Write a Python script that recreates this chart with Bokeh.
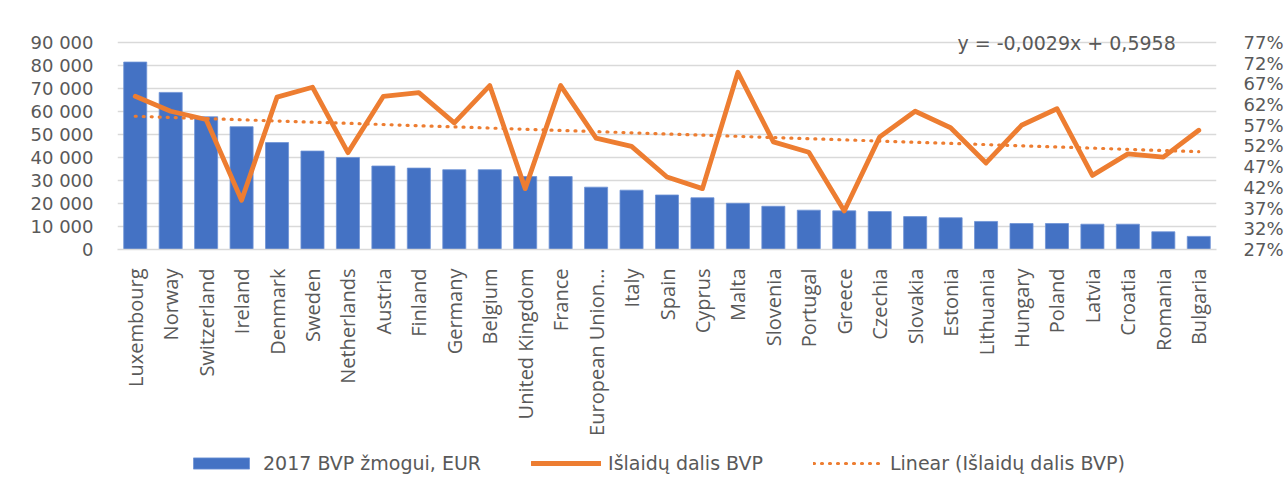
import numpy as np
from bokeh.plotting import figure
from bokeh.layouts import column
from bokeh.models import (FactorRange, Range1d, LinearAxis, FixedTicker, Legend,
                          LegendItem, Label, ColumnDataSource)
from bokeh.embed import file_html
from bokeh.resources import INLINE

countries = ["Luxembourg", "Norway", "Switzerland", "Ireland", "Denmark", "Sweden",
             "Netherlands", "Austria", "Finland", "Germany", "Belgium", "United Kingdom",
             "France", "European Union…", "Italy", "Spain", "Cyprus", "Malta", "Slovenia",
             "Portugal", "Greece", "Czechia", "Slovakia", "Estonia", "Lithuania", "Hungary",
             "Poland", "Latvia", "Croatia", "Romania", "Bulgaria"]
gdp = [81500, 68300, 57700, 53400, 46500, 42800, 40000, 36300, 35400, 34700, 34700, 31700,
       31700, 27100, 25800, 23700, 22500, 20100, 18800, 17100, 16800, 16500, 14300, 13800,
       12200, 11300, 11300, 11000, 11000, 7700, 5700]
share = [0.640, 0.604, 0.584, 0.389, 0.638, 0.662, 0.504, 0.640, 0.649, 0.576, 0.666, 0.417,
         0.666, 0.539, 0.519, 0.445, 0.417, 0.698, 0.530, 0.505, 0.363, 0.542, 0.604, 0.564,
         0.479, 0.570, 0.610, 0.449, 0.501, 0.493, 0.558]
left_ticks = [0, 10000, 20000, 30000, 40000, 50000, 60000, 70000, 80000, 90000]
left_labels = ["0", "10 000", "20 000", "30 000", "40 000", "50 000", "60 000", "70 000",
               "80 000", "90 000"]
right_ticks = [0.27, 0.32, 0.37, 0.42, 0.47, 0.52, 0.57, 0.62, 0.67, 0.72, 0.77]
right_labels = ["27%", "32%", "37%", "42%", "47%", "52%", "57%", "62%", "67%", "72%", "77%"]
series_names = ["2017 BVP žmogui, EUR", "Išlaidų dalis BVP", "Linear (Išlaidų dalis BVP)"]
equation = "y = -0,0029x + 0,5958"

# linear trendline (least squares fit of the share series, as Excel's "Linear" trendline)
xs = np.arange(1, len(share) + 1)
coef = np.polyfit(xs, share, 1)
trend = list(np.polyval(coef, xs))

src = ColumnDataSource(dict(c=countries, gdp=gdp, share=share, trend=trend))

TXT = "#595959"
GRID = "#d9d9d9"
BLUE = "#4472C4"
ORANGE = "#ED7D31"

# head-room above the top gridline so the equation text is not clipped
Y_TOP = 96087
P_TOP = 0.8038

W = 1286
H1, H2 = 448, 47

p = figure(width=W, height=H1, x_range=FactorRange(*countries, range_padding=0),
           y_range=Range1d(0, Y_TOP), output_backend="svg", toolbar_location=None,
           min_border_left=117, min_border_right=70, min_border_top=28,
           min_border_bottom=H1 - 249)
p.outline_line_color = None
p.background_fill_color = "white"
p.border_fill_color = "white"
p.extra_y_ranges = {"pct": Range1d(0.27, P_TOP)}

bar_style = dict(fill_color=BLUE, line_color="#6f93d6", line_width=0.8)
line_style = dict(line_color=ORANGE, line_width=4.8, line_join="round", line_cap="round")
trend_style = dict(line_color=ORANGE, line_width=3.2, line_dash="1 7", line_cap="round")

p.vbar(x="c", top="gdp", width=0.65, source=src, **bar_style)
p.line(x="c", y="share", source=src, y_range_name="pct", **line_style)
p.line(x="c", y="trend", source=src, y_range_name="pct", **trend_style)

# grid
p.xgrid.grid_line_color = None
p.ygrid.grid_line_color = GRID
p.ygrid.grid_line_width = 1.3
p.ygrid.ticker = FixedTicker(ticks=left_ticks)

# left axis
ya = p.yaxis[0]
ya.ticker = FixedTicker(ticks=left_ticks)
ya.major_label_overrides = {t: l for t, l in zip(left_ticks, left_labels)}
ya.axis_line_color = None
ya.major_tick_line_color = None
ya.minor_tick_line_color = None
ya.major_label_standoff = 18
ya.major_label_text_font = "DejaVu Sans"
ya.major_label_text_font_size = "18px"
ya.major_label_text_color = TXT

# right axis
ra = LinearAxis(y_range_name="pct", ticker=FixedTicker(ticks=right_ticks))
ra.major_label_overrides = {t: l for t, l in zip(right_ticks, right_labels)}
ra.axis_line_color = None
ra.major_tick_line_color = None
ra.minor_tick_line_color = None
ra.major_label_standoff = 21
ra.major_label_text_font = "DejaVu Sans"
ra.major_label_text_font_size = "18px"
ra.major_label_text_color = TXT
p.add_layout(ra, "right")

# x axis
xa = p.xaxis[0]
xa.axis_line_color = GRID
xa.axis_line_width = 1.5
xa.major_tick_line_color = None
xa.minor_tick_line_color = None
xa.major_label_orientation = np.pi / 2
xa.major_label_standoff = 13
xa.major_label_text_font = "Open Sans"
xa.major_label_text_font_size = "20px"
xa.major_label_text_color = TXT

# trendline equation
p.add_layout(Label(x=29.85, y=90000, text=equation, text_align="right",
                   text_baseline="middle", text_font="DejaVu Sans", text_font_size="19px",
                   text_color=TXT))

# legend strip (separate figure so the legend is not clipped by the chart frame);
# its swatch renderers hold a single point far outside the strip's visible range
lg = figure(width=W, height=H2, x_range=Range1d(0, 1), y_range=Range1d(0, 1),
            output_backend="svg", toolbar_location=None, x_axis_type=None,
            y_axis_type=None, min_border=0)
lg.outline_line_color = None
lg.xgrid.grid_line_color = None
lg.ygrid.grid_line_color = None
r_bar = lg.vbar(x=[-50], top=[-50], bottom=[-51], width=0.5, **bar_style)
r_line = lg.line(x=[-50, -49], y=[-50, -50], **line_style)
r_trend = lg.line(x=[-50, -49], y=[-50, -50], **trend_style)

legend = Legend(items=[LegendItem(label=series_names[0], renderers=[r_bar]),
                       LegendItem(label=series_names[1], renderers=[r_line]),
                       LegendItem(label=series_names[2], renderers=[r_trend])],
                location=(69, 21), orientation="horizontal", glyph_width=70,
                glyph_height=14, label_height=14, label_standoff=7, spacing=50,
                padding=0, margin=0, border_line_color=None, background_fill_alpha=0,
                label_text_font="DejaVu Sans", label_text_font_size="19px",
                label_text_color=TXT, label_text_baseline="middle")
lg.add_layout(legend, "center")

layout = column(p, lg, spacing=0)
open("out.html", "w").write(file_html(layout, INLINE))
